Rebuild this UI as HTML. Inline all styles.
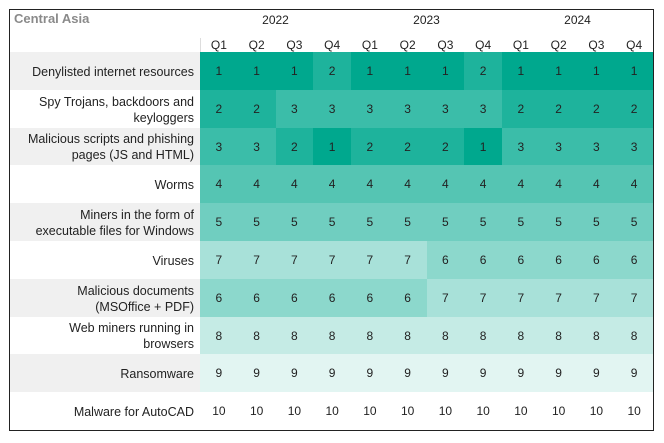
<!DOCTYPE html>
<html><head><meta charset="utf-8"><style>
body{margin:0;width:664px;height:443px;background:#fff;font-family:"Liberation Sans",sans-serif;position:relative;overflow:hidden}
#frame{position:absolute;left:9px;top:9px;width:643px;height:420px;border:1px solid #222}
.t{position:absolute;font-size:12px;color:#222}
.c{position:absolute;width:37.75px;height:37.8px;font-size:12px;color:#222;text-align:center;line-height:38.5px}
.lab{position:absolute;left:10px;width:190px;height:37.8px;display:flex;align-items:center;justify-content:flex-end;text-align:right;font-size:12.5px;color:#222;line-height:16px;box-sizing:border-box;padding-right:6px;padding-top:2px;white-space:nowrap}
</style></head><body>
<div id="frame"></div>
<div class="t" style="left:14px;top:11px;font-weight:bold;font-size:13px;color:#8a8a8a">Central Asia</div>
<div id="g"></div>
<script>
var cols=['#00a88e','#1eb39c','#3bbda9','#55c5b3','#70cec0','#8cd8cc','#a8e1d9','#c5ebe5','#e2f5f2','#ffffff'];
var labels=['Denylisted internet resources','Spy Trojans, backdoors and<br>keyloggers','Malicious scripts and phishing<br>pages (JS and HTML)','Worms','Miners in the form of<br>executable files for Windows','Viruses','Malicious documents<br>(MSOffice + PDF)','Web miners running in<br>browsers','Ransomware','Malware for AutoCAD'];
var d=[[1,1,1,2,1,1,1,2,1,1,1,1],[2,2,3,3,3,3,3,3,2,2,2,2],[3,3,2,1,2,2,2,1,3,3,3,3],[4,4,4,4,4,4,4,4,4,4,4,4],[5,5,5,5,5,5,5,5,5,5,5,5],[7,7,7,7,7,7,6,6,6,6,6,6],[6,6,6,6,6,6,7,7,7,7,7,7],[8,8,8,8,8,8,8,8,8,8,8,8],[9,9,9,9,9,9,9,9,9,9,9,9],[10,10,10,10,10,10,10,10,10,10,10,10]];
var h='';var x0=200,w=37.75,y0=52,rh=37.8;
['2022','2023','2024'].forEach(function(y,i){h+='<div class="t" style="left:'+(x0+i*4*w)+'px;width:'+(4*w)+'px;text-align:center;top:13px">'+y+'</div>';});
for(var j=0;j<12;j++)h+='<div class="t" style="left:'+(x0+j*w)+'px;width:'+w+'px;text-align:center;top:38px">Q'+(j%4+1)+'</div>';
h+='<div style="position:absolute;left:200px;top:38px;width:1px;height:14px;background:#ddd"></div>';
for(var i=0;i<10;i++){var y=y0+i*rh;
h+='<div class="lab" style="top:'+y+'px;background:'+(i%2==0?'#f0f0f0':'#fff')+'"><span>'+labels[i]+'</span></div>';
for(var j=0;j<12;j++){var v=d[i][j];h+='<div class="c" style="left:'+(x0+j*w)+'px;top:'+y+'px;background:'+cols[v-1]+'">'+v+'</div>';}}
document.getElementById('g').innerHTML=h;
</script>
</body></html>
